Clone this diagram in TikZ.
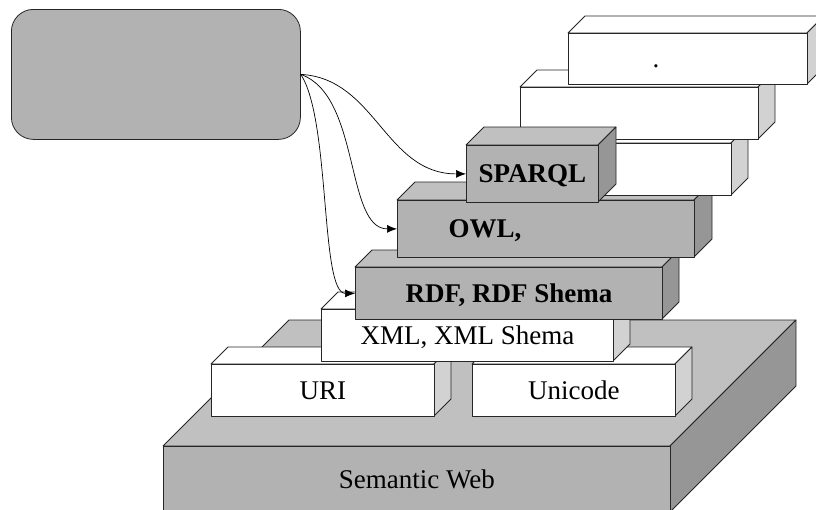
\documentclass[tikz,border=0pt]{standalone}
\usepackage{fontspec}
\setmainfont{Liberation Serif}
\usetikzlibrary{arrows.meta}

\definecolor{gfront}{HTML}{B2B2B2}
\definecolor{gtop}{HTML}{C0C0C0}
\definecolor{gside}{HTML}{969696}
\definecolor{wfront}{HTML}{FFFFFF}
\definecolor{wtop}{HTML}{FFFFFF}
\definecolor{wside}{HTML}{D2D2D2}

\tikzset{
	face/.style={draw=black!85, line width=0.8pt, line join=round},
	layer/.style={face, inner sep=0pt, anchor=north west, text height=18pt, text depth=0pt, font=\fontsize{27}{30}\selectfont},
	link/.style={-{Latex[length=10pt,width=8pt]}, line width=0.7pt}
}

% #1 name, #2 left, #3 top, #4 right, #5 bottom, #6 depth, #7 colours, #8 text
\newcommand{\layerbox}[8]{
	\filldraw[face, fill=#7top] (#2,#3) -- ++(#6,-#6) -- ({#4+#6},{#3-#6}) -- (#4,#3) -- cycle;
	\filldraw[face, fill=#7side] (#4,#3) -- ++(#6,-#6) -- ({#4+#6},{#5-#6}) -- (#4,#5) -- cycle;
	\node[layer, fill=#7front, minimum width={(#4-#2)*1pt}, minimum height={(#5-#3)*1pt}] (#1) at (#2,#3) {#8};
}

\begin{document}
\begin{tikzpicture}[x=1pt, y=-1pt]
	\useasboundingbox (0,0) rectangle (816,509);

	\node[face, fill=gfront, rounded corners=22pt, anchor=north west, minimum width=289pt, minimum height=130pt] (app) at (11,9) {};

	\layerbox{sem}{163}{446}{670}{512}{126}{g}{Semantic Web}
	\layerbox{uri}{211}{364}{434}{416}{17}{w}{URI}
	\layerbox{uni}{472}{364}{675}{416}{17}{w}{Unicode}
	\layerbox{xml}{321}{309}{613}{361}{17}{w}{XML, XML Shema}
	\layerbox{rdf}{355}{267}{662}{319}{17}{g}{\bfseries RDF, RDF Shema}
	\layerbox{owl}{397}{200}{694}{257}{18}{g}{\bfseries OWL,\hspace{122pt}\null}
	\layerbox{rules}{560}{143}{731}{195}{17}{w}{}
	\layerbox{logic}{520}{87}{758}{139}{17}{w}{}
	\layerbox{trust}{568}{33}{807}{84}{17}{w}{.\hspace{64pt}\null}
	\layerbox{spq}{466}{145}{598}{202}{18}{g}{\bfseries SPARQL}

	\draw[link] (app.east) .. controls +(75,4) and +(-81,0) .. (spq.west);
	\draw[link] (app.east) .. controls +(60,21) and +(-52,0) .. (owl.west);
	\draw[link] (app.east) .. controls +(30,46) and +(-35,0) .. (rdf.west);
\end{tikzpicture}
\end{document}
